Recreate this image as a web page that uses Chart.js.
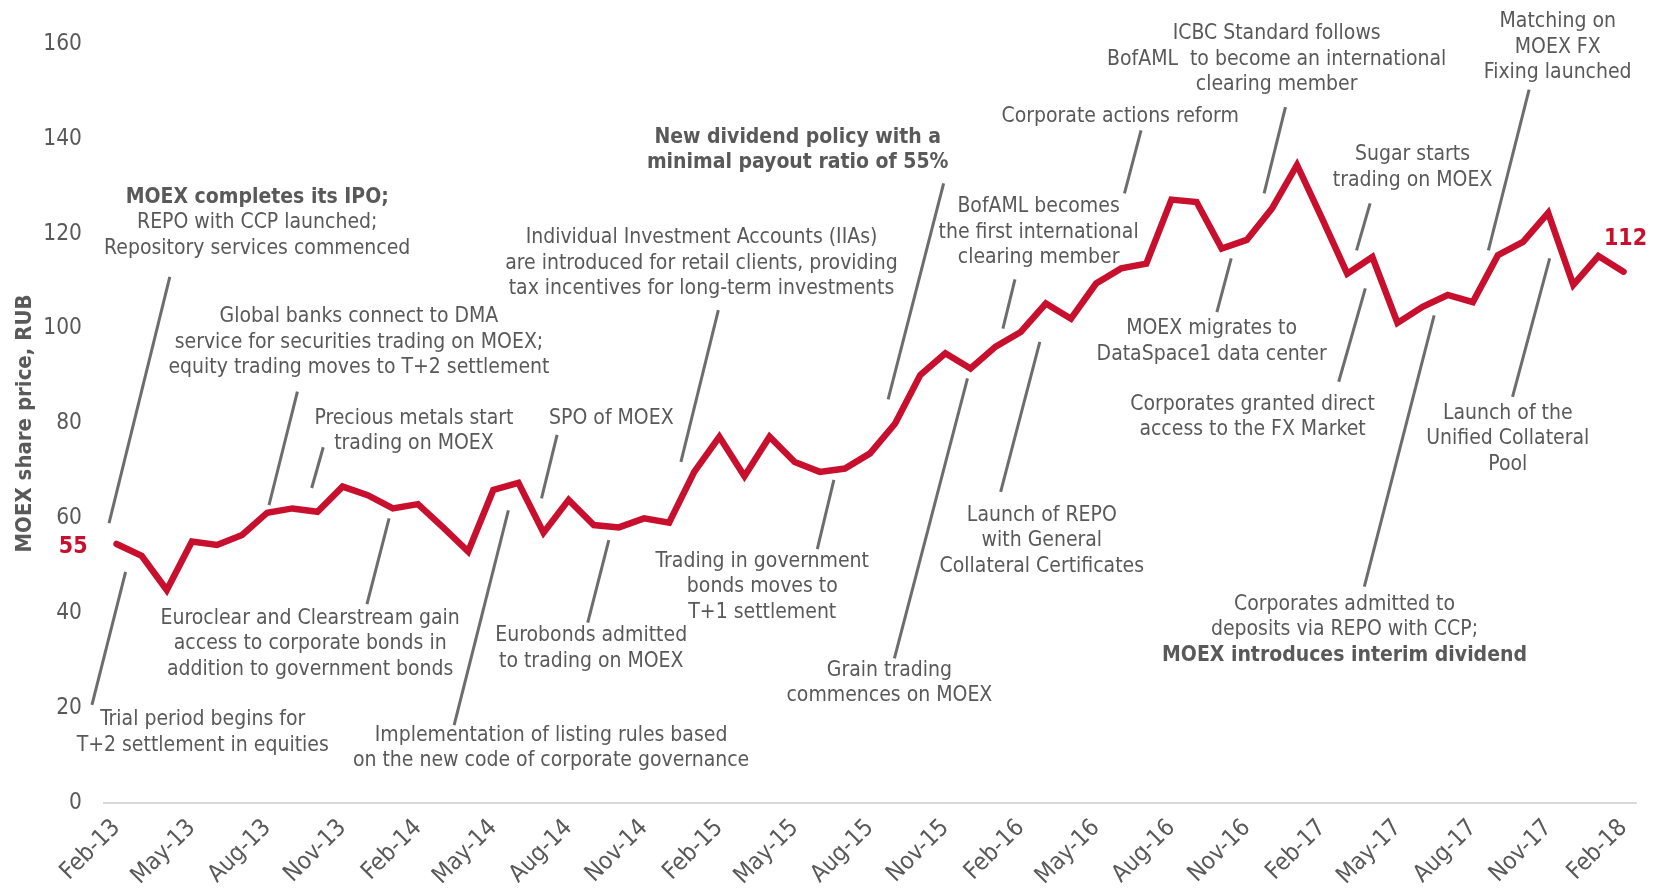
<!DOCTYPE html>
<html>
<head>
<meta charset="utf-8">
<script src="https://cdn.jsdelivr.net/npm/chart.js@4.4.1/dist/chart.umd.min.js"></script>
<style>
  html, body { margin: 0; padding: 0; background: #fff; }
</style>
</head>
<body>
<canvas id="myChart" width="1655" height="890"></canvas>
<script>
const months = [
  'Feb-13','Mar-13','Apr-13','May-13','Jun-13','Jul-13','Aug-13','Sep-13','Oct-13','Nov-13','Dec-13','Jan-14',
  'Feb-14','Mar-14','Apr-14','May-14','Jun-14','Jul-14','Aug-14','Sep-14','Oct-14','Nov-14','Dec-14','Jan-15',
  'Feb-15','Mar-15','Apr-15','May-15','Jun-15','Jul-15','Aug-15','Sep-15','Oct-15','Nov-15','Dec-15','Jan-16',
  'Feb-16','Mar-16','Apr-16','May-16','Jun-16','Jul-16','Aug-16','Sep-16','Oct-16','Nov-16','Dec-16','Jan-17',
  'Feb-17','Mar-17','Apr-17','May-17','Jun-17','Jul-17','Aug-17','Sep-17','Oct-17','Nov-17','Dec-17','Jan-18',
  'Feb-18'
];

// MOEX share price, RUB (month end)
const sharePrice = [
  54.6, 52.1, 44.9, 55.1, 54.4, 56.5, 61.2, 62.1, 61.4, 66.7, 64.9, 62.1,
  63.0, 58.1, 53.0, 66.0, 67.5, 57.0, 63.9, 58.6, 58.1, 60.0, 59.1, 69.8,
  77.2, 68.9, 77.2, 71.9, 69.8, 70.5, 73.7, 80.0, 90.2, 94.8, 91.6, 96.2,
  99.3, 105.3, 102.1, 109.5, 112.7, 113.7, 127.2, 126.7, 116.9, 118.7, 125.3, 134.5,
  123.2, 111.6, 115.1, 101.2, 104.6, 107.1, 105.6, 115.5, 118.3, 124.4, 109.2, 115.3,
  112.0
];

const tickLabels = ['Feb-13','May-13','Aug-13','Nov-13','Feb-14','May-14','Aug-14','Nov-14',
  'Feb-15','May-15','Aug-15','Nov-15','Feb-16','May-16','Aug-16','Nov-16','Feb-17','May-17',
  'Aug-17','Nov-17','Feb-18'];
const yTicks = [0, 20, 40, 60, 80, 100, 120, 140, 160];

// callouts: text anchored at [category index, value], leader from -> to in the same units
// a line starting with '*' is bold
const notes = [
  { at: [5.6, 127.7], text: ['*MOEX completes its IPO;', 'REPO with CCP launched;', 'Repository services commenced'], leader: [[2.12, 110.9], [-0.30, 59.0]] },
  { at: [9.65, 102.5], text: ['Global banks connect to DMA', 'service for securities trading on MOEX;', 'equity trading moves to T+2 settlement'], leader: [[7.2, 86.7], [6.07, 62.8]] },
  { at: [11.84, 81.1], text: ['Precious metals start', 'trading on MOEX'], leader: [[8.23, 75.0], [7.77, 66.4]] },
  { at: [3.43, 17.5], text: ['Trial period begins for', 'T+2 settlement in equities'], leader: [[0.36, 48.7], [-0.98, 20.7]] },
  { at: [7.71, 38.9], text: ['Euroclear and Clearstream gain', 'access to corporate bonds in', 'addition to government bonds'], leader: [[10.85, 60.0], [9.97, 41.9]] },
  { at: [17.3, 14.3], text: ['Implementation of listing rules based', 'on the new code of corporate governance'], leader: [[15.6, 61.7], [13.44, 16.4]] },
  { at: [19.7, 81.1], text: ['SPO of MOEX'], leader: [[17.54, 77.6], [16.92, 64.2]] },
  { at: [18.9, 35.2], text: ['Eurobonds admitted', 'to trading on MOEX'], leader: [[19.6, 55.4], [18.76, 38.0]] },
  { at: [23.29, 119.1], text: ['Individual Investment Accounts (IIAs)', 'are introduced for retail clients, providing', 'tax incentives for long-term investments'], leader: [[23.96, 103.9], [22.47, 71.9]] },
  { at: [27.12, 140.3], text: ['*New dividend policy with a', '*minimal payout ratio of 55%'], leader: [[32.93, 130.6], [30.72, 85.1]] },
  { at: [25.71, 50.9], text: ['Trading in government', 'bonds moves to', 'T+1 settlement'], leader: [[28.56, 68.1], [27.9, 53.5]] },
  { at: [30.77, 28.0], text: ['Grain trading', 'commences on MOEX'], leader: [[33.88, 89.5], [30.97, 30.5]] },
  { at: [36.71, 125.7], text: ['BofAML becomes', 'the first international', 'clearing member'], leader: [[35.77, 110.4], [35.29, 100.0]] },
  { at: [36.84, 60.7], text: ['Launch of REPO', 'with General', 'Collateral Certificates'], leader: [[36.76, 97.2], [35.2, 65.6]] },
  { at: [39.96, 144.8], text: ['Corporate actions reform'], leader: [[40.79, 141.8], [40.13, 128.5]] },
  { at: [46.19, 162.1], text: ['ICBC Standard follows', 'BofAML  to become an international', 'clearing member'], leader: [[46.54, 146.7], [45.69, 128.5]] },
  { at: [43.6, 100.0], text: ['MOEX migrates to', 'DataSpace1 data center'], leader: [[44.38, 114.8], [43.81, 103.5]] },
  { at: [51.6, 136.6], text: ['Sugar starts', 'trading on MOEX'], leader: [[49.91, 126.4], [49.37, 116.5]] },
  { at: [57.38, 164.7], text: ['Matching on', 'MOEX FX', 'Fixing launched'], leader: [[56.24, 150.4], [54.62, 116.5]] },
  { at: [45.23, 84.1], text: ['Corporates granted direct', 'access to the FX Market'], leader: [[49.72, 108.5], [48.66, 88.8]] },
  { at: [55.39, 82.1], text: ['Launch of the', 'Unified Collateral', 'Pool'], leader: [[57.06, 114.8], [55.58, 85.6]] },
  { at: [48.89, 41.9], text: ['Corporates admitted to', 'deposits via REPO with CCP;', '*MOEX introduces interim dividend'], leader: [[52.46, 102.8], [49.68, 45.6]] }
];

const FONT = "'DejaVu Sans Condensed', 'DejaVu Sans', sans-serif";
const GREY = '#595959';
const RED = '#C8102E';

const calloutPlugin = {
  id: 'callouts',
  beforeDatasetsDraw(chart) {
    const {ctx, scales: {x, y}} = chart;
    ctx.save();
    ctx.strokeStyle = '#6d6d6d';
    ctx.lineWidth = 3;
    ctx.lineCap = 'butt';
    notes.forEach(n => {
      const [a, b] = n.leader;
      ctx.beginPath();
      ctx.moveTo(x.getPixelForValue(a[0]), y.getPixelForValue(a[1]));
      ctx.lineTo(x.getPixelForValue(b[0]), y.getPixelForValue(b[1]));
      ctx.stroke();
    });
    ctx.fillStyle = GREY;
    ctx.textAlign = 'center';
    ctx.textBaseline = 'middle';
    notes.forEach(n => {
      const cx = x.getPixelForValue(n.at[0]);
      let cy = y.getPixelForValue(n.at[1]);
      n.text.forEach(line => {
        const bold = line.startsWith('*');
        ctx.font = (bold ? 'bold ' : '') + '21px ' + FONT;
        ctx.fillText(bold ? line.slice(1) : line, cx, cy);
        cy += 25.5;
      });
    });
    ctx.restore();
  },
  afterDatasetsDraw(chart) {
    const {ctx} = chart;
    const pts = chart.getDatasetMeta(0).data;
    const first = pts[0], last = pts[pts.length - 1];
    ctx.save();
    ctx.fillStyle = RED;
    ctx.font = 'bold 23px ' + FONT;
    ctx.textBaseline = 'middle';
    ctx.textAlign = 'right';
    ctx.fillText(String(Math.round(sharePrice[0])), first.x - 29, first.y + 3);
    ctx.textAlign = 'center';
    ctx.fillText(String(Math.round(sharePrice[sharePrice.length - 1])), last.x + 2, last.y - 33);
    ctx.restore();
  }
};

Chart.defaults.font.family = FONT;
Chart.defaults.color = GREY;

new Chart(document.getElementById('myChart'), {
  type: 'line',
  data: {
    labels: months,
    datasets: [{
      label: 'MOEX share price',
      data: sharePrice,
      borderColor: RED,
      borderWidth: 6.5,
      borderJoinStyle: 'miter',
      borderCapStyle: 'round',
      pointRadius: 0,
      tension: 0,
      fill: false
    }]
  },
  options: {
    responsive: false,
    animation: false,
    devicePixelRatio: 1,
    layout: { padding: { top: 44, right: 14, left: 0, bottom: 0 } },
    plugins: {
      legend: { display: false },
      tooltip: { enabled: false }
    },
    scales: {
      x: {
        offset: true,
        grid: { display: false, drawTicks: false },
        border: { display: true, color: '#d9d9d9', width: 2 },
        ticks: {
          autoSkip: false,
          maxRotation: 45,
          minRotation: 45,
          padding: 11,
          color: GREY,
          font: { size: 24 },
          callback: (v, i) => tickLabels.includes(months[i]) ? months[i] : ''
        },
        afterFit: s => { s.height = 87; }
      },
      y: {
        min: yTicks[0],
        max: yTicks[yTicks.length - 1],
        grid: { display: false, drawTicks: false },
        border: { display: false },
        ticks: {
          stepSize: yTicks[1] - yTicks[0],
          padding: 22,
          color: GREY,
          font: { size: 22.5 }
        },
        title: {
          display: true,
          text: 'MOEX share price, RUB',
          color: GREY,
          font: { size: 22, weight: 'bold' },
          padding: { top: 12, bottom: 0 }
        },
        afterFit: s => { s.width = 104; }
      }
    }
  },
  plugins: [calloutPlugin]
});
</script>
</body>
</html>
